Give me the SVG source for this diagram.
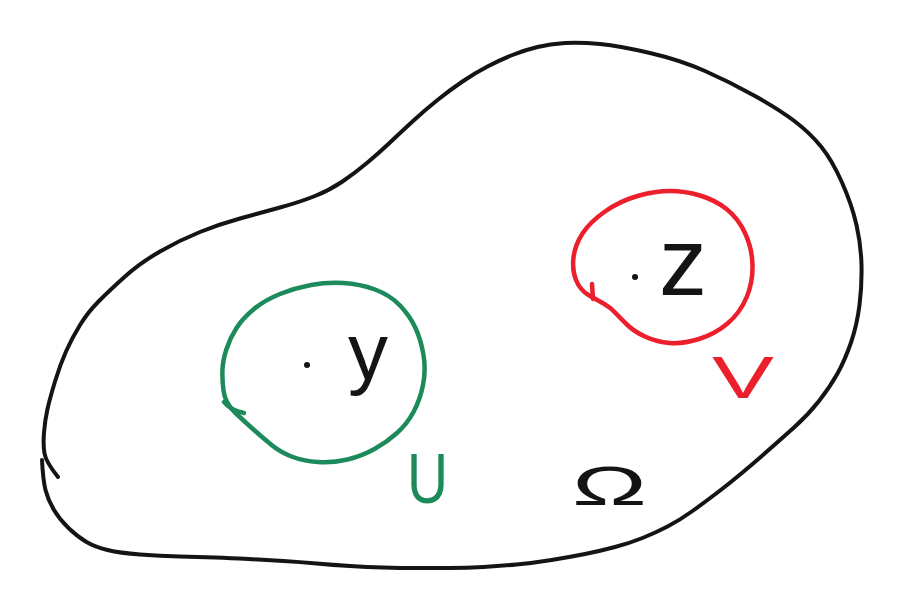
<svg xmlns="http://www.w3.org/2000/svg" width="900" height="610" viewBox="0 0 900 610">
<style>
.ink{fill:none;stroke-linecap:round;stroke-linejoin:round}
.blk{stroke:#141414;stroke-width:4}
.grn{stroke:#1d8a5c;stroke-width:4.5}
.red{stroke:#ec1f2c;stroke-width:4.5}
.lbl{font-family:"Liberation Sans","DejaVu Sans",sans-serif}
</style>
<rect width="900" height="610" fill="#ffffff"/>
<g id="omega-region">
<path class="ink blk" d="M58,477 Q46,462 44.5,453.5 Q43,445 44,432.5 Q45,420 47.5,409 Q50,398 55,381.5 Q60,365 66,351.5 Q72,338 80,325 Q88,312 99,301 Q110,290 125,276.5 Q140,263 160,251.5 Q180,240 200,232 Q220,224 240,218.5 Q260,213 280,207.5 Q300,202 315,196 Q330,190 342.5,181.5 Q355,173 367.5,162.5 Q380,152 390,142.5 Q400,133 412.5,121.5 Q425,110 437.5,100 Q450,90 462.5,81.5 Q475,73 487.5,66.5 Q500,60 512.5,55 Q525,50 537.5,47 Q550,44 565,43 Q580,42 600,44 Q620,46 650,53 Q680,60 705,71 Q730,82 755,96 Q780,110 795,121.5 Q810,133 821,146.5 Q832,160 842,182.5 Q852,205 856.5,225 Q861,245 861.5,265 Q862,285 859.5,305 Q857,325 851,342.5 Q845,360 837.5,373.5 Q830,387 819,401 Q808,415 794,427.5 Q780,440 767.5,451 Q755,462 742.5,472.5 Q730,483 717.5,492.5 Q705,502 692.5,511 Q680,520 667.5,526.5 Q655,533 642.5,538 Q630,543 615,547 Q600,551 585,554 Q570,557 551.5,560 Q533,563 516.5,564.5 Q500,566 483.5,567 Q467,568 448.5,568 Q430,568 415,568 Q400,568 383.5,567.5 Q367,567 350,566 Q333,565 316.5,563.5 Q300,562 283.5,561 Q267,560 248.5,559 Q230,558 215,557.5 Q200,557 180,556.5 Q160,556 140,554.5 Q120,553 107.5,550 Q95,547 86.5,542 Q78,537 69,528.5 Q60,520 54,510 Q48,500 45.5,490 Q43,480 42,460"/>
<text class="lbl" x="572" y="505" font-size="56" textLength="75" lengthAdjust="spacingAndGlyphs" fill="#141414">Ω</text>
</g>
<g id="set-U">
<path class="ink grn" d="M222.5,369 Q222,378 223.5,390.5 Q225,403 235,412.5 Q245,422 253.5,429.5 Q262,437 271,444.5 Q280,452 291.5,456.5 Q303,461 318,462 Q333,463 347.5,459.5 Q362,456 374.5,449 Q387,442 397,433 Q407,424 413.5,412 Q420,400 423,385 Q426,370 423.5,355 Q421,340 415.5,328 Q410,316 400,305.5 Q390,295 375,289.5 Q360,284 343.5,283 Q327,282 311,285 Q295,288 280,294 Q265,300 254,309 Q243,318 236.5,328 Q230,338 226.5,349 Q223,360 222.5,369 Z"/>
<path class="ink grn" d="M224,402 Q230,410 244,413"/>
<circle cx="307" cy="365" r="3" fill="#141414"/>
<text class="lbl" x="348" y="379" font-size="80" fill="#141414">y</text>
<text class="lbl" x="407" y="503" font-size="71" textLength="41" lengthAdjust="spacingAndGlyphs" fill="#1d8a5c">U</text>
</g>
<g id="set-V">
<path class="ink red" d="M573.5,257.5 Q572,270 576,280 Q580,290 588.5,295 Q597,300 603.5,303.5 Q610,307 616,313.5 Q622,320 628.5,326 Q635,332 646,337 Q657,342 670,343 Q683,344 699,339 Q715,334 727.5,323.5 Q740,313 746.5,297.5 Q753,282 752.5,265 Q752,248 745,233 Q738,218 726.5,209 Q715,200 700,195.5 Q685,191 670,191 Q655,191 637.5,196 Q620,201 605,211.5 Q590,222 582.5,233.5 Q575,245 573.5,257.5 Z"/>
<path class="ink red" d="M593,299 L592,284"/>
<circle cx="635" cy="277" r="3" fill="#141414"/>
<text class="lbl" x="659" y="295" font-size="96" fill="#141414">z</text>
<text class="lbl" x="712" y="398" font-size="60" textLength="62" lengthAdjust="spacingAndGlyphs" fill="#ec1f2c">V</text>
</g>
</svg>
